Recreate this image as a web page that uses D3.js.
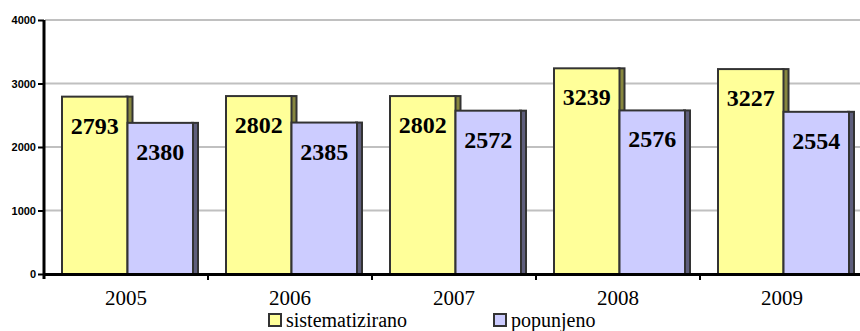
<!DOCTYPE html>
<html>
<head>
<meta charset="utf-8">
<script src="https://cdn.jsdelivr.net/npm/d3@7"></script>
<style>
  body { margin: 0; background: #fff; }
  svg { display: block; }
  .serif { font-family: "Liberation Serif", "Times New Roman", serif; }
  .sans { font-family: "Liberation Sans", Arial, sans-serif; }
</style>
</head>
<body>
<svg id="chart" width="860" height="331"></svg>
<script>
// Data
const years = ["2005", "2006", "2007", "2008", "2009"];
const seriesNames = ["sistematizirano", "popunjeno"];
const sistematizirano = [2793, 2802, 2802, 3239, 3227];
const popunjeno = [2380, 2385, 2572, 2576, 2554];
const yTicks = [0, 1000, 2000, 3000, 4000];

const faceColors = ["#ffff99", "#ccccff"];
const sideColors = ["#87873f", "#5e5e7c"];
const edge = "#333333";

const svg = d3.select("#chart");
const W = 860;

const x = d3.scaleBand().domain(years).range([44, 864]).padding(0);
const inner = d3.scaleBand().domain(seriesNames).range([18, 149]).padding(0);
const y = d3.scaleLinear().domain([0, 4000]).range([274, 20]);

// Horizontal gridlines
svg.append("g")
  .selectAll("line")
  .data(yTicks.filter(t => t > 0))
  .join("line")
  .attr("x1", 45).attr("x2", W)
  .attr("y1", d => y(d)).attr("y2", d => y(d))
  .attr("stroke", "#c0c0c0")
  .attr("stroke-width", 2);

// Bars with a shaded right side
const rows = years.map((yr, i) => ({ year: yr, values: [sistematizirano[i], popunjeno[i]] }));
const depth = 6;

const groups = svg.append("g")
  .selectAll("g")
  .data(rows)
  .join("g")
  .attr("transform", d => `translate(${x(d.year)},0)`);

seriesNames.forEach((name, si) => {
  const bw = inner.bandwidth();
  groups.append("rect")
    .attr("x", inner(name) + bw - 1)
    .attr("y", d => y(d.values[si]))
    .attr("width", depth)
    .attr("height", d => y(0) - y(d.values[si]))
    .attr("fill", sideColors[si])
    .attr("stroke", edge)
    .attr("stroke-width", 2);
  groups.append("rect")
    .attr("x", inner(name))
    .attr("y", d => y(d.values[si]))
    .attr("width", bw)
    .attr("height", d => y(0) - y(d.values[si]))
    .attr("fill", faceColors[si])
    .attr("stroke", edge)
    .attr("stroke-width", 2);
});

// Value labels inside bars
seriesNames.forEach((name, si) => {
  groups.append("text")
    .attr("class", "serif")
    .attr("x", inner(name) + inner.bandwidth() / 2)
    .attr("y", d => y(d.values[si]) + 37)
    .attr("text-anchor", "middle")
    .style("font-weight", "bold")
    .style("font-size", "24px")
    .attr("fill", "#000")
    .text(d => d.values[si]);
});

// Y axis
const yAxis = d3.axisLeft(y).tickValues(yTicks).tickSize(6).tickPadding(2).tickFormat(d3.format("d"));
const gy = svg.append("g").attr("transform", "translate(44,0)").call(yAxis);
gy.attr("font-family", null).attr("font-size", null);
gy.select(".domain").attr("stroke", "#000").attr("stroke-width", 3)
  .attr("d", `M0,${y(4000)}V${y(0) + 5}`);
gy.selectAll(".tick line").attr("stroke", "#000").attr("stroke-width", 2);
gy.selectAll(".tick text")
  .attr("class", "sans")
  .style("font-weight", "bold")
  .style("font-size", "11px")
  .attr("fill", "#000");

// X axis line and category separators
svg.append("line")
  .attr("x1", 44).attr("x2", W)
  .attr("y1", y(0) + 0.5).attr("y2", y(0) + 0.5)
  .attr("stroke", "#000").attr("stroke-width", 3);

svg.append("g")
  .selectAll("line")
  .data(years.slice(1))
  .join("line")
  .attr("x1", d => x(d)).attr("x2", d => x(d))
  .attr("y1", y(0)).attr("y2", y(0) + 6)
  .attr("stroke", "#000").attr("stroke-width", 2);

// Category labels
svg.append("g")
  .selectAll("text")
  .data(years)
  .join("text")
  .attr("class", "serif")
  .attr("x", d => x(d) + x.bandwidth() / 2)
  .attr("y", 305)
  .attr("text-anchor", "middle")
  .style("font-size", "21px")
  .attr("fill", "#000")
  .text(d => d);

// Legend
const legendX = [269, 494];
const legend = svg.append("g")
  .selectAll("g")
  .data(seriesNames)
  .join("g")
  .attr("transform", (d, i) => `translate(${legendX[i]},314)`);
legend.append("rect")
  .attr("width", 12).attr("height", 12)
  .attr("fill", (d, i) => faceColors[i])
  .attr("stroke", edge).attr("stroke-width", 2);
legend.append("text")
  .attr("class", "serif")
  .attr("x", 17).attr("y", 13)
  .style("font-size", "20px")
  .attr("fill", "#000")
  .text(d => d);
</script>
</body>
</html>
